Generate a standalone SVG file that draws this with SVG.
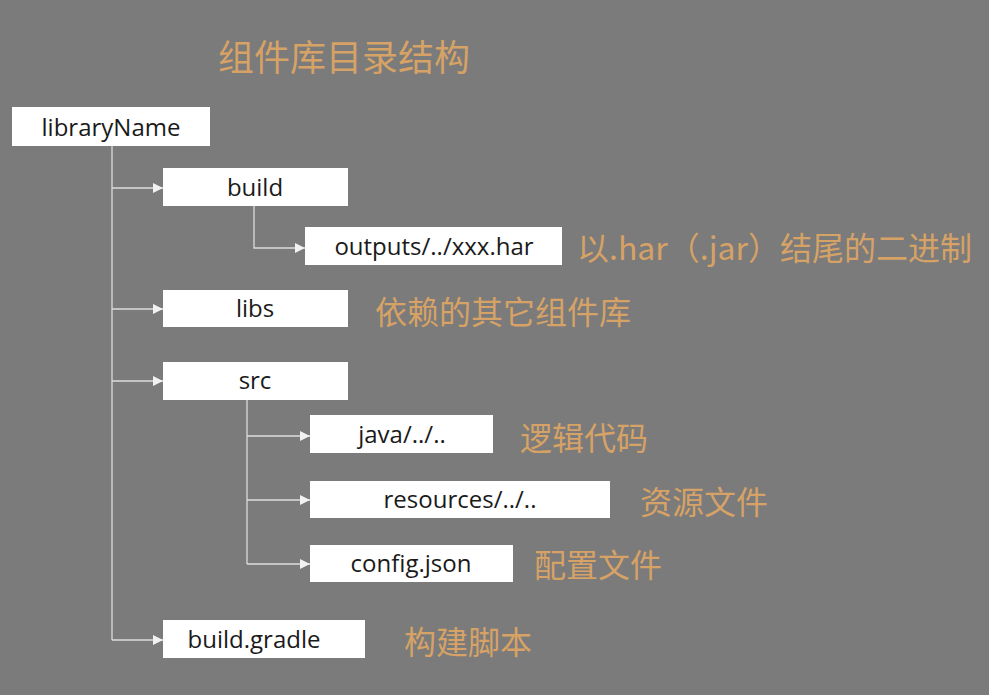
<svg xmlns="http://www.w3.org/2000/svg" width="989" height="695" viewBox="0 0 989 695">
<defs>
<marker id="arr" viewBox="0 0 10 10" refX="10" refY="5" markerWidth="10" markerHeight="10" markerUnits="userSpaceOnUse" orient="auto">
<path d="M0,0 L10,5 L0,10 Z" fill="#f2f2f2"/>
</marker>
</defs>
<style>
.box{fill:#ffffff}
.t{font-family:"Segoe UI","Open Sans","Noto Sans",sans-serif;font-size:24px;fill:#1a1a1a;text-anchor:middle;dominant-baseline:central}
.c{font-family:"Noto Sans CJK SC",sans-serif;fill:#d6a266;dominant-baseline:central}
.ln{fill:none;stroke:#dcdcdc;stroke-width:1.3}
</style>
<rect width="989" height="695" fill="#7b7b7b"/>
<text class="c" x="218" y="55" font-size="36">组件库目录结构</text>
<g id="connectors">
<path class="ln" d="M112,146 V640"/>
<path class="ln" d="M112,188 H163" marker-end="url(#arr)"/>
<path class="ln" d="M112,309 H163" marker-end="url(#arr)"/>
<path class="ln" d="M112,381 H163" marker-end="url(#arr)"/>
<path class="ln" d="M112,640 H163" marker-end="url(#arr)"/>
<path class="ln" d="M254,206 V248 H305" marker-end="url(#arr)"/>
<path class="ln" d="M247,400 V564"/>
<path class="ln" d="M247,436 H310" marker-end="url(#arr)"/>
<path class="ln" d="M247,500 H310" marker-end="url(#arr)"/>
<path class="ln" d="M247,564 H310" marker-end="url(#arr)"/>
</g>
<g id="libraryName"><rect class="box" x="12" y="107" width="198" height="39"/><text class="t" x="111" y="126">libraryName</text></g>
<g id="build"><rect class="box" x="163" y="168" width="185" height="38"/><text class="t" x="255" y="186">build</text></g>
<g id="outputs"><rect class="box" x="305" y="227" width="257" height="38"/><text class="t" x="434" y="245">outputs/../xxx.har</text><text class="c" x="577" y="246" font-size="32">以.har（.jar）结尾的二进制</text></g>
<g id="libs"><rect class="box" x="163" y="290" width="185" height="37"/><text class="t" x="255" y="307">libs</text><text class="c" x="375" y="310" font-size="32">依赖的其它组件库</text></g>
<g id="src"><rect class="box" x="163" y="362" width="185" height="38"/><text class="t" x="255" y="379">src</text></g>
<g id="java"><rect class="box" x="310" y="415" width="183" height="38"/><text class="t" x="402" y="433">java/../..</text><text class="c" x="520" y="436" font-size="32">逻辑代码</text></g>
<g id="resources"><rect class="box" x="310" y="481" width="300" height="37"/><text class="t" x="460" y="498">resources/../..</text><text class="c" x="640" y="500" font-size="32">资源文件</text></g>
<g id="config"><rect class="box" x="310" y="545" width="203" height="37"/><text class="t" x="411" y="562">config.json</text><text class="c" x="534" y="563" font-size="32">配置文件</text></g>
<g id="buildgradle"><rect class="box" x="163" y="620" width="202" height="38"/><text class="t" x="254" y="638">build.gradle</text><text class="c" x="404" y="640" font-size="32">构建脚本</text></g>
</svg>
